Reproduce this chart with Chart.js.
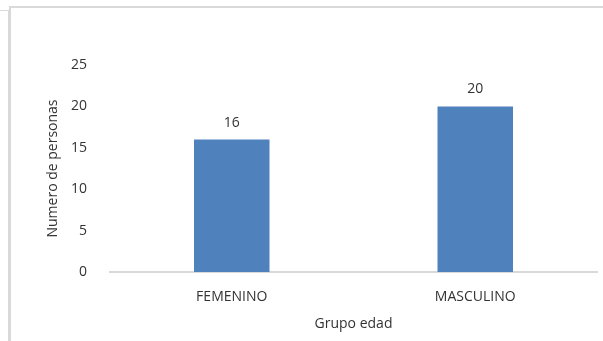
<!DOCTYPE html>
<html>
<head>
<meta charset="utf-8">
<script src="https://cdn.jsdelivr.net/npm/chart.js@4"></script>
<style>
    html, body { margin: 0; padding: 0; background: #fff; }
    #wrap { position: relative; width: 603px; height: 341px; overflow: hidden; }
    #frame { position: absolute; left: 9px; top: 6px; right: -5px; bottom: -5px;
             border-top: 2px solid #d9d9d9; border-left: 2px solid #d9d9d9; }
    #stub { position: absolute; left: 0; top: 10px; width: 8px; height: 400px;
            border-top: 1px solid #d9d9d9; border-right: 1px solid #d9d9d9; }
    canvas { position: absolute; left: 0; top: 0; }
</style>
</head>
<body>
<div id="wrap">
    <div id="stub"></div>
    <div id="frame"></div>
    <canvas id="chart" width="603" height="341"></canvas>
</div>
<script>
// Chart data
const categories = ['FEMENINO', 'MASCULINO'];
const personas = [16, 20];
const yTicks = [0, 5, 10, 15, 20, 25];

const textColor = '#333333';
const fontFamily = "'Open Sans', 'Liberation Sans', sans-serif";

// Simple value labels above each bar
const valueLabels = {
    id: 'valueLabels',
    afterDatasetsDraw(chart) {
        const ctx = chart.ctx;
        const meta = chart.getDatasetMeta(0);
        ctx.save();
        ctx.fillStyle = textColor;
        ctx.font = '14px ' + fontFamily;
        ctx.textAlign = 'center';
        ctx.textBaseline = 'middle';
        meta.data.forEach((bar, i) => {
            ctx.fillText(String(chart.data.datasets[0].data[i]), bar.x, bar.y - 17);
        });
        ctx.restore();
    }
};

new Chart(document.getElementById('chart').getContext('2d'), {
    type: 'bar',
    data: {
        labels: categories,
        datasets: [{
            label: 'Numero de personas',
            data: personas,
            backgroundColor: '#4f81bd',
            borderWidth: 0,
            categoryPercentage: 1,
            barPercentage: 0.31
        }]
    },
    options: {
        responsive: false,
        animation: false,
        layout: { padding: { left: 0, right: 6, top: 65, bottom: 9 } },
        plugins: {
            legend: { display: false },
            tooltip: { enabled: false }
        },
        scales: {
            x: {
                grid: { display: false },
                border: { display: true, color: '#d9d9d9', width: 2 },
                ticks: { color: textColor, font: { family: fontFamily, size: 14 }, padding: 9 },
                title: {
                    display: true,
                    text: 'Grupo edad',
                    color: textColor,
                    font: { family: fontFamily, size: 14 },
                    padding: { top: 0, bottom: 0 }
                },
                afterFit(scale) { scale.height = 60; }
            },
            y: {
                min: 0,
                max: 25,
                grid: { display: false },
                border: { display: false },
                afterBuildTicks(scale) { scale.ticks = yTicks.map(v => ({ value: v })); },
                ticks: { color: textColor, font: { family: fontFamily, size: 14 }, padding: 15 },
                title: {
                    display: true,
                    text: 'Numero de personas',
                    color: textColor,
                    font: { family: fontFamily, size: 14 },
                    padding: { top: 45, bottom: 0 }
                },
                afterFit(scale) { scale.width = 110; }
            }
        }
    },
    plugins: [valueLabels]
});
</script>
</body>
</html>
